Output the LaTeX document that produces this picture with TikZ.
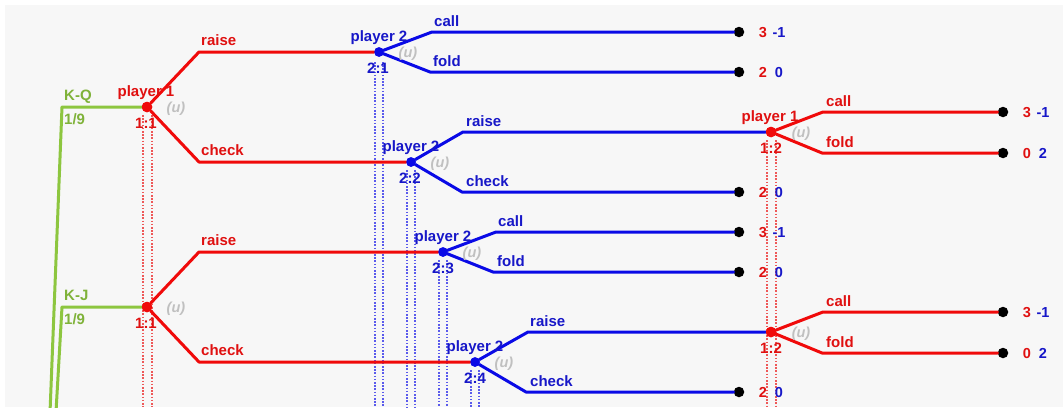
\documentclass[tikz,border=0pt]{standalone}
\usepackage{fontspec}
\setmainfont{Liberation Sans}
\usetikzlibrary{calc}
\definecolor{pred}{HTML}{F00A0A}
\definecolor{pblue}{HTML}{0A0AE6}
\definecolor{lblue}{HTML}{1717C8}
\definecolor{lred}{HTML}{E01010}
\definecolor{pgreen}{HTML}{8DC63F}
\definecolor{ugray}{HTML}{C0C0C0}
\definecolor{bgc}{HTML}{F7F7F7}
\definecolor{dred}{HTML}{EE5858}
\definecolor{dblue}{HTML}{5A5AEC}
\tikzset{
  edge/.style={line width=3pt, line join=round, line cap=round},
  redge/.style={edge, draw=pred},
  bedge/.style={edge, draw=pblue},
  gedge/.style={edge, draw=pgreen},
  nodedot/.style={circle, inner sep=0pt, minimum size=#1},
  rdot/.style={nodedot=10.5pt, fill=pred},
  bdot/.style={nodedot=9.5pt, fill=pblue},
  tdot/.style={nodedot=10.5pt, fill=black},
  lab/.style={inner sep=0pt, font=\bfseries\fontsize{15}{18}\selectfont},
  rlab/.style={lab, text=lred},
  blab/.style={lab, text=lblue},
  glab/.style={lab, text=pgreen!90!black},
  ulab/.style={inner sep=0pt, text=ugray, font=\bfseries\itshape\fontsize{14.5}{16}\selectfont},
  pay/.style={inner sep=0pt, anchor=base, font=\bfseries\fontsize{14.5}{16}\selectfont},
  rdots/.style={draw=dred, line width=1.1pt, dash pattern=on 1.6pt off 1.6pt},
  bdots/.style={draw=dblue, line width=1.1pt, dash pattern=on 1.6pt off 1.6pt},
}
\begin{document}
\begin{tikzpicture}[x=1pt,y=-1pt]
\useasboundingbox (0,0) rectangle (1063,407);
\fill[white] (0,0) rectangle (1063,407);
\fill[bgc] (5,5) rectangle (1063,407);
\clip (0,0) rectangle (1063,407);

% ---------- decision nodes ----------
\node[rdot] (n11a) at (147,107) {};
\node[bdot] (n21)  at (379,52) {};
\node[bdot] (n22)  at (411,162) {};
\node[rdot] (n12a) at (771,132) {};
\node[rdot] (n11b) at (147,307) {};
\node[bdot] (n23)  at (443,252) {};
\node[bdot] (n24)  at (475,362) {};
\node[rdot] (n12b) at (771,332) {};

% ---------- information set markers (dotted) ----------
\coordinate (d11l) at (143,115); \coordinate (d11lb) at (143,407);
\coordinate (d11r) at (152,115); \coordinate (d11rb) at (152,407);
\draw[rdots] (d11l) -- (d11lb); \draw[rdots] (d11r) -- (d11rb);
\coordinate (d21l) at (375,62); \coordinate (d21lb) at (375,407);
\coordinate (d21r) at (383,62); \coordinate (d21rb) at (383,407);
\draw[bdots] (d21l) -- (d21lb); \draw[bdots] (d21r) -- (d21rb);
\coordinate (d22l) at (407,170); \coordinate (d22lb) at (407,407);
\coordinate (d22r) at (415,170); \coordinate (d22rb) at (415,407);
\draw[bdots] (d22l) -- (d22lb); \draw[bdots] (d22r) -- (d22rb);
\coordinate (d23l) at (439,260); \coordinate (d23lb) at (439,407);
\coordinate (d23r) at (447,260); \coordinate (d23rb) at (447,407);
\draw[bdots] (d23l) -- (d23lb); \draw[bdots] (d23r) -- (d23rb);
\coordinate (d24l) at (471,370); \coordinate (d24lb) at (471,407);
\coordinate (d24r) at (479,370); \coordinate (d24rb) at (479,407);
\draw[bdots] (d24l) -- (d24lb); \draw[bdots] (d24r) -- (d24rb);
\coordinate (d12l) at (767,140); \coordinate (d12lb) at (767,407);
\coordinate (d12r) at (776,140); \coordinate (d12rb) at (776,407);
\draw[rdots] (d12l) -- (d12lb); \draw[rdots] (d12r) -- (d12rb);

% ---------- terminal nodes ----------
\node[tdot] (t1)  at (739,32) {};
\node[tdot] (t2)  at (739,72) {};
\node[tdot] (t3)  at (739,192) {};
\node[tdot] (t4)  at (1003,112) {};
\node[tdot] (t5)  at (1003,153) {};
\node[tdot] (t6)  at (739,232) {};
\node[tdot] (t7)  at (739,272) {};
\node[tdot] (t8)  at (739,392) {};
\node[tdot] (t9)  at (1003,312) {};
\node[tdot] (t10) at (1003,353) {};

% ---------- chance moves (green) ----------
\coordinate (root) at (37,744);
\coordinate (gA) at (62,107);
\coordinate (gB) at (62,307);
\draw[gedge] (root) -- (gA) -- (n11a);
\draw[gedge] (root) -- (gB) -- (n11b);

% ---------- K-Q subtree ----------
\coordinate (c1) at (199,52);  \coordinate (c2) at (199,162);
\draw[redge] (n11a) -- (c1) -- (n21);
\draw[redge] (n11a) -- (c2) -- (n22);
\coordinate (c3) at (432,32);  \coordinate (c4) at (430,72);
\draw[bedge] (n21) -- (c3) -- (t1);
\draw[bedge] (n21) -- (c4) -- (t2);
\coordinate (c5) at (463,132); \coordinate (c6) at (462,192);
\draw[bedge] (n22) -- (c5) -- (n12a);
\draw[bedge] (n22) -- (c6) -- (t3);
\coordinate (c7) at (823,112); \coordinate (c8) at (822,153);
\draw[redge] (n12a) -- (c7) -- (t4);
\draw[redge] (n12a) -- (c8) -- (t5);

% ---------- K-J subtree ----------
\coordinate (e1) at (199,252); \coordinate (e2) at (199,362);
\draw[redge] (n11b) -- (e1) -- (n23);
\draw[redge] (n11b) -- (e2) -- (n24);
\coordinate (e3) at (496,232); \coordinate (e4) at (493,272);
\draw[bedge] (n23) -- (e3) -- (t6);
\draw[bedge] (n23) -- (e4) -- (t7);
\coordinate (e5) at (528,332); \coordinate (e6) at (526,392);
\draw[bedge] (n24) -- (e5) -- (n12b);
\draw[bedge] (n24) -- (e6) -- (t8);
\coordinate (e7) at (823,312); \coordinate (e8) at (822,353);
\draw[redge] (n12b) -- (e7) -- (t9);
\draw[redge] (n12b) -- (e8) -- (t10);

% redraw node dots on top
\node[rdot] at (n11a) {}; \node[rdot] at (n11b) {};
\node[rdot] at (n12a) {}; \node[rdot] at (n12b) {};
\node[bdot] at (n21) {}; \node[bdot] at (n22) {};
\node[bdot] at (n23) {}; \node[bdot] at (n24) {};

% ---------- chance labels ----------
\node[glab, anchor=base west] (lkq) at (64,100) {K-Q};
\node[glab, anchor=base west] (pkq) at (64,124) {1/9};
\node[glab, anchor=base west] (lkj) at (64,300) {K-J};
\node[glab, anchor=base west] (pkj) at (64,324) {1/9};

% ---------- move labels ----------
\node[rlab, anchor=base west] (m1) at (201,45.5) {raise};
\node[rlab, anchor=base west] (m2) at (201,155.5) {check};
\node[blab, anchor=base west] (m3) at (434,26) {call};
\node[blab, anchor=base west] (m4) at (433,66) {fold};
\node[blab, anchor=base west] (m5) at (466,126) {raise};
\node[blab, anchor=base west] (m6) at (466,186) {check};
\node[rlab, anchor=base west] (m7) at (826,106) {call};
\node[rlab, anchor=base west] (m8) at (826,147) {fold};
\node[rlab, anchor=base west] (m9) at (201,245.5) {raise};
\node[rlab, anchor=base west] (m10) at (201,355.5) {check};
\node[blab, anchor=base west] (m11) at (498,226) {call};
\node[blab, anchor=base west] (m12) at (497,266) {fold};
\node[blab, anchor=base west] (m13) at (530,326) {raise};
\node[blab, anchor=base west] (m14) at (530,386) {check};
\node[rlab, anchor=base west] (m15) at (826,306) {call};
\node[rlab, anchor=base west] (m16) at (826,347) {fold};

% ---------- player labels ----------
\node[rlab, anchor=base] (pl1) at (146,96) {player 1};
\node[blab, anchor=base] (pl2) at (379,41) {player 2};
\node[blab, anchor=base] (pl3) at (411,151) {player 2};
\node[rlab, anchor=base] (pl4) at (770,121) {player 1};
\node[blab, anchor=base] (pl5) at (443,241) {player 2};
\node[blab, anchor=base] (pl6) at (475,351) {player 2};

% ---------- information set ids ----------
\node[rlab, anchor=base] (i1) at (146,128) {1:1};
\node[blab, anchor=base] (i2) at (378,73) {2:1};
\node[blab, anchor=base] (i3) at (410,183) {2:2};
\node[rlab, anchor=base] (i4) at (771,153) {1:2};
\node[rlab, anchor=base] (i5) at (146,328) {1:1};
\node[blab, anchor=base] (i6) at (443,273) {2:3};
\node[blab, anchor=base] (i7) at (475,383) {2:4};
\node[rlab, anchor=base] (i8) at (771,353) {1:2};

% ---------- (u) marks ----------
\node[ulab] (u1) at ($(n11a)+(29,2)$) {(u)};
\node[ulab] (u2) at ($(n21)+(29,2)$) {(u)};
\node[ulab] (u3) at ($(n22)+(29,2)$) {(u)};
\node[ulab] (u4) at ($(n12a)+(30,2)$) {(u)};
\node[ulab] (u5) at ($(n11b)+(29,2)$) {(u)};
\node[ulab] (u6) at ($(n23)+(29,2)$) {(u)};
\node[ulab] (u7) at ($(n24)+(29,2)$) {(u)};
\node[ulab] (u8) at ($(n12b)+(30,2)$) {(u)};

% ---------- payoffs ----------
\foreach \t/\a/\b in {t1/3/-1, t2/2/0, t3/2/0, t4/3/-1, t5/0/2, t6/3/-1, t7/2/0, t8/2/0, t9/3/-1, t10/0/2}{
  \node[pay, text=lred] (\t a) at ($(\t)+(24,5.5)$) {\a};
  \node[pay, text=lblue] (\t b) at ($(\t)+(40,5.5)$) {\b};
}
\end{tikzpicture}
\end{document}
